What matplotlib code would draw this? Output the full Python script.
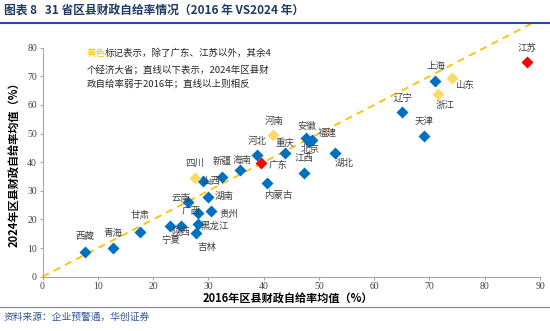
import matplotlib.pyplot as plt
from matplotlib.lines import Line2D

plt.rcParams['font.family'] = ['Noto Sans CJK SC', 'DejaVu Sans']

# province, 2016 mean, 2024 mean, marker group, label offset in px (dx, dy)
provinces = ['西藏', '青海', '甘肃', '宁夏', '陕西', '吉林', '黑龙江', '广西',
             '贵州', '云南', '湖南', '山西', '四川', '新疆', '海南', '河北',
             '广东', '河南', '重庆', '内蒙古', '安徽', '福建', '北京', '江西',
             '湖北', '辽宁', '天津', '上海', '浙江', '山东', '江苏']
x2016 = [7.7, 12.8, 17.6, 23.1, 25.0, 27.7, 28.1, 28.2,
         30.4, 26.3, 29.9, 29.0, 27.6, 32.4, 35.8, 38.8,
         39.6, 41.7, 43.9, 40.7, 47.6, 48.8, 48.2, 47.3,
         52.9, 65.1, 69.0, 71.0, 71.6, 74.1, 87.6]
y2024 = [8.7, 9.9, 15.7, 17.6, 17.6, 15.4, 18.3, 22.2,
         23.0, 26.2, 28.0, 33.5, 34.5, 34.9, 37.3, 42.5,
         39.6, 49.5, 43.1, 32.6, 48.4, 47.6, 47.2, 36.3,
         43.3, 57.6, 49.2, 68.4, 63.7, 69.3, 74.9]
group = ['b', 'b', 'b', 'b', 'b', 'b', 'b', 'b',
         'b', 'b', 'b', 'b', 'y', 'b', 'b', 'b',
         'r', 'y', 'b', 'b', 'b', 'b', 'b', 'b',
         'b', 'b', 'b', 'b', 'y', 'y', 'r']
label_off = [(0, 15), (0, 15), (0, 16), (1, -14), (0, -6), (11, -15), (17, -2), (-7, 2),
             (18, -3), (-7, 3), (16, 0), (9, -1), (0, 15), (1, 15), (2, 9), (0, 14),
             (17, -2), (1, 14), (0, 10), (11, -12), (1, 12), (15, 7), (1, -8), (0, 14),
             (9, -11), (1, 14), (0, 15), (1, 14), (7, -11), (13, -7), (0, 14)]

colors = {'b': '#0070C0', 'y': '#FFD966', 'r': '#FF0000'}

W, H = 550, 331
fig = plt.figure(figsize=(W / 100, H / 100), dpi=100)
ax = fig.add_axes([42.5 / W, 1 - 276.7 / H, (540 - 42.5) / W, (276.7 - 47.7) / H])

# 45 degree reference line, runs past the top of the axes
ax.plot([0, 89], [0, 89], ls=(0, (4, 3)), color='#FFC000', lw=1.3, clip_on=False, zorder=2)

for g in ['b', 'y', 'r']:
    xs = [x for x, k in zip(x2016, group) if k == g]
    ys = [y for y, k in zip(y2024, group) if k == g]
    ax.plot(xs, ys, 'D', ms=6.5, color=colors[g], mec='none', zorder=3, clip_on=False)

for name, x, y, off in zip(provinces, x2016, y2024, label_off):
    ax.annotate(name, (x, y), xytext=off, textcoords='offset pixels',
                ha='center', va='center', fontsize=6.8, color='#404040', zorder=4)

ax.set_xlim(0, 90)
ax.set_ylim(0, 80)
ax.set_xticks(range(0, 91, 10))
ax.set_yticks(range(0, 81, 10))
for s in ['top', 'right']:
    ax.spines[s].set_visible(False)
for s in ['left', 'bottom']:
    ax.spines[s].set_color('#A6A6A6')
    ax.spines[s].set_linewidth(0.8)
ax.tick_params(colors='#A6A6A6', length=2.5, width=0.8, labelcolor='#404040', pad=1.5)
for lab in ax.get_xticklabels() + ax.get_yticklabels():
    lab.set_fontfamily('Liberation Serif')
    lab.set_fontsize(7)

fig.text(288 / W, 1 - 293 / H, '2016年区县财政自给率均值（%）', ha='center', va='top',
         fontsize=8, fontweight='bold', color='black')
fig.text(15 / W, 1 - 162 / H, '2024年区县财政自给率均值（%）', ha='center', va='center',
         rotation=90, fontsize=8, fontweight='bold', color='black')

# note box
fig.text(86.5 / W, 1 - 53.5 / H, '黄色', ha='left', va='center', fontsize=6.8, color='#FFC000')
fig.text(105 / W, 1 - 53.5 / H, '标记表示，除了广东、江苏以外，其余4', ha='left', va='center',
         fontsize=6.8, color='#262626')
fig.text(86.5 / W, 1 - 69.3 / H, '个经济大省；直线以下表示，2024年区县财', ha='left', va='center',
         fontsize=6.8, color='#262626')
fig.text(86.5 / W, 1 - 84.3 / H, '政自给率弱于2016年；直线以上则相反', ha='left', va='center',
         fontsize=6.8, color='#262626')

# title and source
fig.text(4 / W, 1 - 11 / H, '图表 8   31 省区县财政自给率情况（2016 年 VS2024 年）', ha='left',
         va='center', fontsize=8.5, fontweight='bold', color='#1F3864')
fig.add_artist(Line2D([0, 1], [1 - 23 / H, 1 - 23 / H], color='#1F4E9A', lw=1.5))
fig.add_artist(Line2D([0, 1], [1 - 307 / H, 1 - 307 / H], color='#5B8BD0', lw=0.8))
fig.text(4 / W, 1 - 317 / H, '资料来源：企业预警通，华创证券', ha='left', va='center',
         fontsize=7, color='#2F5597')

fig.savefig('out.png', dpi=100)
